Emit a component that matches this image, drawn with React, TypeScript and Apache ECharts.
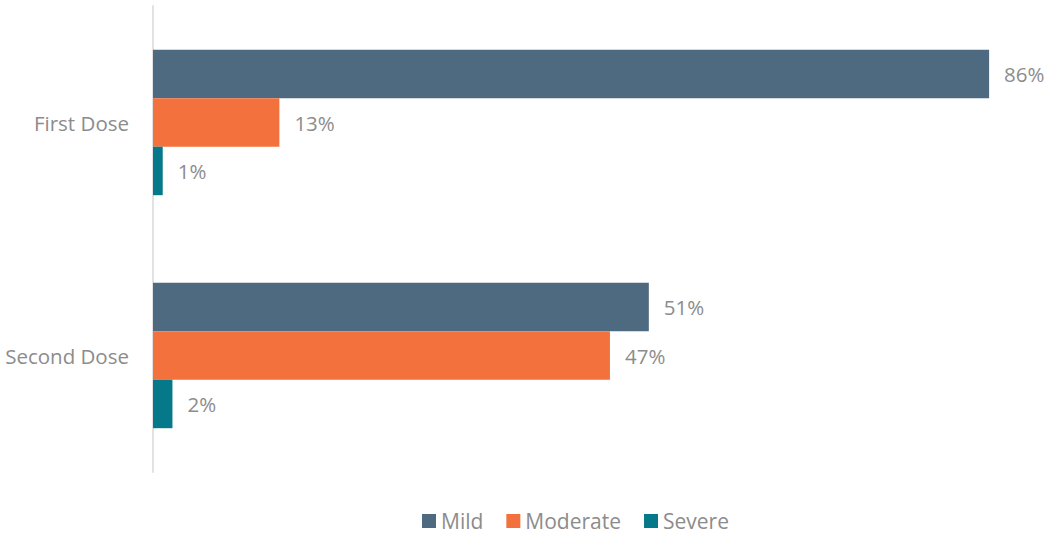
import React, { useEffect, useRef } from "react";
import * as echarts from "echarts";

const categories = ["First Dose", "Second Dose"];
const seriesNames = ["Mild", "Moderate", "Severe"];
const mild = [86, 51];
const moderate = [13, 47];
const severe = [1, 2];
const colors = ["#4e6a80", "#f3713c", "#05788a"];

export default function App() {
  const ref = useRef<HTMLDivElement>(null);
  useEffect(() => {
    const chart = echarts.init(ref.current!, null, { renderer: "svg" });
    const values = [mild, moderate, severe];
    chart.setOption({
      animation: false,
      textStyle: { fontFamily: "Open Sans" },
      grid: { left: 153, top: 6, width: 875, bottom: 63, containLabel: false },
      legend: {
        top: 510,
        left: 422,
        padding: 0,
        itemWidth: 14,
        itemHeight: 14,
        itemGap: 23,
        icon: "rect",
        textStyle: { color: "#8c8c8c", fontSize: 21, lineHeight: 22, fontFamily: "Open Sans" },
        data: seriesNames,
      },
      xAxis: {
        type: "value",
        min: 0,
        max: 90,
        show: false,
      },
      yAxis: {
        type: "category",
        inverse: true,
        data: categories,
        axisLine: { show: true, lineStyle: { color: "#e3e1e1", width: 2 } },
        axisTick: { show: false },
        axisLabel: { color: "#8c8c8c", fontSize: 20.5, fontFamily: "Open Sans", margin: 24, padding: [0, 0, 6, 0] },
      },
      series: seriesNames.map((n, i) => ({
        name: n,
        type: "bar",
        data: values[i],
        barWidth: "20.8%",
        barGap: "0%",
        itemStyle: { color: colors[i] },
        label: {
          show: true,
          position: "right",
          distance: 15,
          formatter: "{c}%",
          color: "#8c8c8c",
          fontSize: 20.5,
          fontFamily: "Open Sans",
        },
      })),
    });
    return () => chart.dispose();
  }, []);
  return <div ref={ref} style={{ width: 1048, height: 535, position: "absolute", left: 0, top: 0 }} />;
}
